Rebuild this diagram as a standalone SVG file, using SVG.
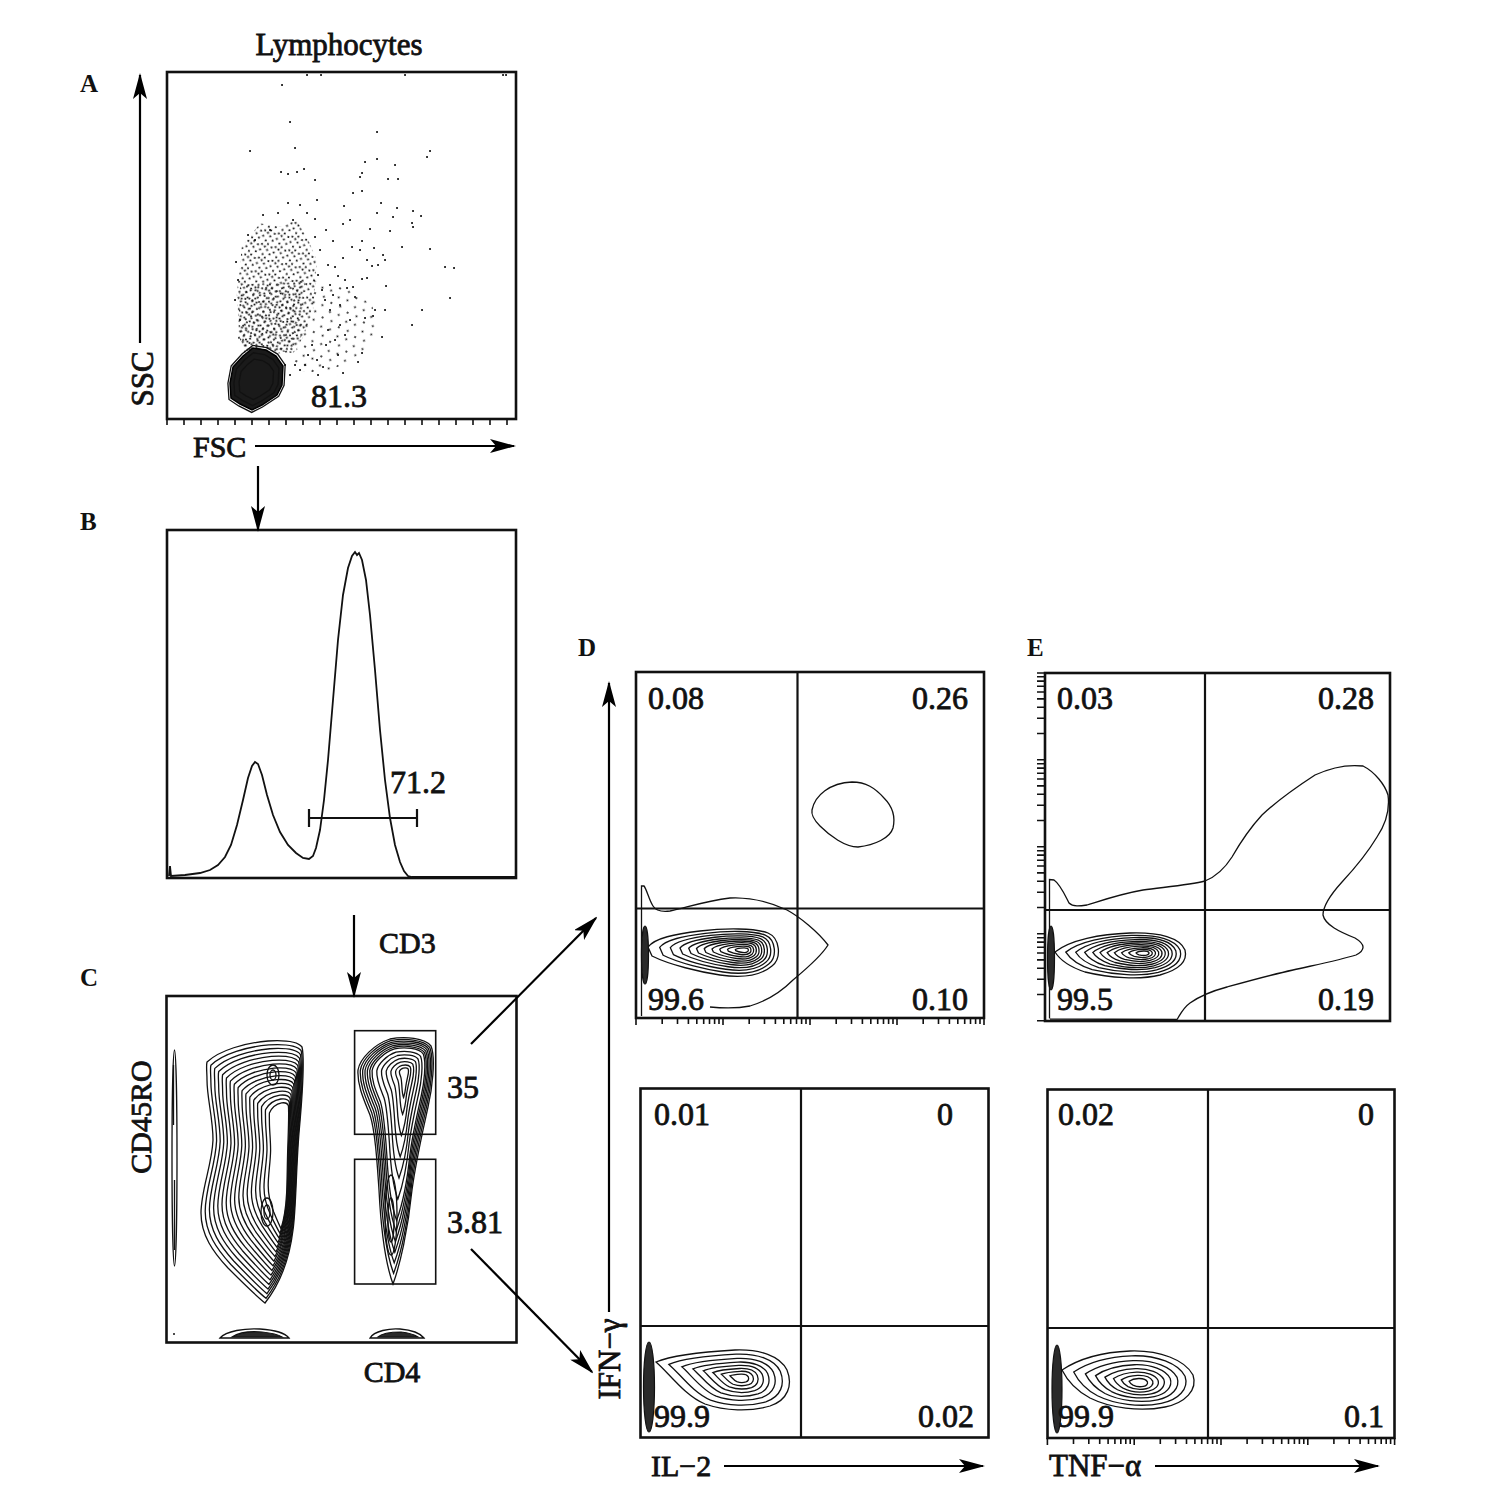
<svg xmlns="http://www.w3.org/2000/svg" width="1498" height="1491" viewBox="0 0 1498 1491">
<style>
.t{font-family:"Liberation Serif","Times New Roman",serif;fill:#111;stroke:#111;stroke-width:0.8}
.num{font-size:32px}
.lab{font-size:30px}
.pl{font-size:25px;font-weight:bold;stroke-width:0}
.frame{fill:none;stroke:#111;stroke-width:2.6}
.q{fill:none;stroke:#111;stroke-width:2.2}
.tick{fill:none;stroke:#111;stroke-width:1.6}
.ct{fill:none;stroke:#111;stroke-width:1.3;vector-effect:non-scaling-stroke}
.arr{fill:none;stroke:#000;stroke-width:2.2;marker-end:url(#ah)}
.gate{fill:none;stroke:#111;stroke-width:1.6}
.dots{fill:none;stroke:#111;stroke-width:2.1;stroke-linecap:round}
.streak{fill:#2a2a2a;stroke:#111;stroke-width:1.2}
</style>
<defs>
<marker id="ah" viewBox="0 0 26 14" refX="24" refY="7" markerWidth="26" markerHeight="14" markerUnits="userSpaceOnUse" orient="auto">
<path d="M0,0 L26,7 L0,14 L6,7 Z" fill="#000"/>
</marker>
<pattern id="p1" width="14" height="14" patternUnits="userSpaceOnUse" patternTransform="rotate(13)">
<g fill="#111"><circle cx="1.5" cy="2.5" r="1.05"/><circle cx="8.5" cy="1.5" r="1.05"/><circle cx="5" cy="6.5" r="1.05"/><circle cx="11.8" cy="5.2" r="1.05"/><circle cx="2.2" cy="10.8" r="1.05"/><circle cx="8" cy="9.5" r="1.05"/><circle cx="12.3" cy="12" r="1.05"/><circle cx="5.5" cy="12.6" r="1.05"/></g>
</pattern>
<pattern id="p1b" width="13" height="15" patternUnits="userSpaceOnUse" patternTransform="rotate(-21) translate(6,4)">
<g fill="#111"><circle cx="1.5" cy="2.5" r="1.05"/><circle cx="8.5" cy="1.5" r="1.05"/><circle cx="5" cy="7" r="1.05"/><circle cx="11" cy="6.2" r="1.05"/><circle cx="2.2" cy="11.8" r="1.05"/><circle cx="8" cy="10.5" r="1.05"/><circle cx="11.5" cy="13.5" r="1.05"/></g>
</pattern>
<pattern id="p2" width="19" height="17" patternUnits="userSpaceOnUse" patternTransform="rotate(31)">
<g fill="#111"><circle cx="3" cy="4" r="1"/><circle cx="12.5" cy="2.5" r="1"/><circle cx="15.5" cy="10.5" r="1"/><circle cx="6.5" cy="12.5" r="1"/></g>
</pattern>
<path id="cD1" class="ct" d="M648,947 C655,938 675,934 700,931 C725,928 755,928 768,933 C780,938 782,958 772,966 C760,976 740,978 720,975 C700,972 670,965 652,956 Z"/>
<path id="cE1" class="ct" d="M1055,952 C1070,940 1100,934 1130,933 C1160,932 1180,938 1185,950 C1188,962 1178,970 1160,975 C1140,980 1110,978 1085,972 C1070,967 1060,960 1055,952 Z"/>
<path id="cD2" class="ct" d="M656,1362 C670,1356 700,1352 735,1350 C760,1349 780,1356 787,1370 C793,1385 788,1400 770,1406 C750,1412 725,1411 705,1404 C685,1396 668,1372 656,1362 Z"/>
<path id="cE2" class="ct" d="M1062,1370 C1080,1358 1105,1352 1130,1351 C1160,1350 1185,1360 1193,1375 C1198,1390 1185,1403 1165,1407 C1140,1412 1110,1408 1090,1398 C1075,1390 1066,1378 1062,1370 Z"/>
<path id="cCL" class="ct" d="M207,1062 C220,1050 245,1043 268,1041 C285,1040 298,1042 302,1047 C305,1060 302,1100 299,1133 C296,1170 296,1210 293,1230 C290,1255 283,1280 265,1303 C255,1295 240,1280 228,1268 C213,1252 201,1235 201,1213 C201,1190 212,1165 213,1140 C213,1118 207,1098 207,1080 C207,1072 206,1066 207,1062 Z"/>
<path id="cCR" class="ct" d="M358,1070 C360,1058 375,1044 390,1039 C405,1036 425,1038 431,1046 C436,1058 432,1090 428,1107 C423,1130 416,1160 412,1190 C408,1230 400,1265 393,1284 C386,1265 381,1230 379,1190 C377,1160 375,1130 370,1115 C364,1100 357,1085 358,1070 Z"/>
<path id="cAB" class="ct" d="M233,367 L243,356 L253,348 L266,350 L276,356 L283,366 L282,385 L277,395 L262,405 L252,410 L240,404 L231,398 L230,383 Z"/>
</defs>
<rect width="1498" height="1491" fill="#fff"/>

<g id="panelA">
<text class="t lab" x="339" y="55" text-anchor="middle" style="font-size:31px">Lymphocytes</text>
<text class="t pl" x="80" y="92">A</text>
<rect class="frame" x="167" y="72" width="349" height="347"/>
<path class="tick" d="M167,419v6M184,419v6M201,419v6M218,419v6M235,419v6M252,419v6M269,419v6M286,419v6M303,419v6M320,419v6M337,419v6M354,419v6M371,419v6M388,419v6M405,419v6M422,419v6M439,419v6M456,419v6M473,419v6M490,419v6M507,419v6"/>
<polygon points="241.7,246.7 260,223.3 280,226.7 296.7,220 308.3,240 316.7,260 315,286.7 313.3,310 303.3,336.7 293.3,353.3 273.3,350 246.7,356.7 240,340 236.7,293.3 240,266.7" fill="url(#p1)"/>
<polygon points="240,285 305,280 302,335 292,352 262,355 246,356 238,338" fill="url(#p1b)"/>
<polygon points="313,280 335,285 355,292 372,305 378,325 370,345 350,362 325,372 300,372 292,360 300,340 310,310" fill="url(#p2)"/>
<path class="dots" d="M282 85h.1M290 122h.1M250 151h.1M295 148h.1M377 132h.1M430 151h.1M427 157h.1M377 159h.1M365 162h.1M395 165h.1M281 172h.1M288 174h.1M297 172h.1M304 169h.1M315 180h.1M362 173h.1M360 177h.1M388 179h.1M398 179h.1M353 193h.1M362 191h.1M317 200h.1M288 203h.1M344 206h.1M381 203h.1M413 211h.1M421 216h.1M397 208h.1M377 213h.1M393 217h.1M307 213h.1M278 213h.1M263 215h.1M315 219h.1M293 220h.1M350 220h.1M343 224h.1M412 223h.1M413 227h.1M390 231h.1M370 229h.1M326 230h.1M315 237h.1M333 241h.1M352 247h.1M362 241h.1M374 248h.1M402 247h.1M430 249h.1M445 267h.1M454 268h.1M383 255h.1M385 260h.1M360 250h.1M343 258h.1M367 260h.1M372 266h.1M378 265h.1M335 267h.1M328 265h.1M450 298h.1M422 310h.1M412 325h.1M386 286h.1M367 278h.1M362 279h.1M353 287h.1M347 288h.1M355 297h.1M375 310h.1M385 310h.1M373 316h.1M365 318h.1M382 337h.1M343 373h.1M358 362h.1M362 353h.1M338 355h.1M317 360h.1M323 367h.1M318 375h.1M307 75h.1M321 75h.1M405 75h.1M503 75h.1M506 75h.1M236 262h.1M238 280h.1M235 300h.1M240 320h.1M318 275h.1M322 290h.1M320 250h.1M325 300h.1M330 310h.1M328 330h.1M335 340h.1M300 205h.1M270 230h.1M255 240h.1M248 235h.1M312 345h.1M305 365h.1M300 370h.1M290 375h.1M295 365h.1M285 365h.1M308 355h.1M326 345h.1M340 325h.1M345 335h.1M350 320h.1M340 305h.1M333 295h.1M345 280h.1M338 276h.1M330 285h.1"/>
<use href="#cAB" transform="matrix(1.08,0,0,1.08,-20.48,-30.4)"/>
<path d="M233,367 L243,356 L253,348 L266,350 L276,356 L283,366 L282,385 L277,395 L262,405 L252,410 L240,404 L231,398 L230,383 Z" fill="#1a1a1a" stroke="#000" stroke-width="1.5"/>
<use href="#cAB" transform="matrix(.85,0,0,.85,38.4,57)" style="stroke:#666"/>
<use href="#cAB" transform="matrix(.65,0,0,.65,89.6,133)" style="stroke:#555"/>
<text class="t num" x="311" y="407">81.3</text>
<line class="arr" x1="140" y1="343" x2="140" y2="75"/>
<text class="t lab" transform="translate(153,379) rotate(-90)" text-anchor="middle" style="font-size:31px">SSC</text>
<text class="t lab" x="193" y="457">FSC</text>
<line class="arr" x1="255" y1="446" x2="514" y2="446"/>
</g>

<g id="panelB">
<text class="t pl" x="80" y="530">B</text>
<rect class="frame" x="167" y="530" width="349" height="348"/>
<path fill="none" stroke="#111" stroke-width="1.8" d="M169,876 L170,866 L171,876 L185,875 L200,873 L210,870 L218,865 L225,857 L231,845 L237,825 L243,800 L248,778 L252,766 L255,762 L258,764 L262,775 L267,795 L273,815 L280,832 L288,845 L296,853 L303,858 L309,859 L313,856 L316,848 L320,830 L324,800 L328,760 L333,700 L338,640 L343,595 L348,568 L352,556 L355,552 L357,555 L359,553 L362,560 L366,580 L370,615 L375,670 L380,730 L385,780 L390,818 L395,845 L400,862 L404,871 L408,876 L412,877 L516,877"/>
<path class="q" d="M309,818H417M309,809V827M417,809V827"/>
<text class="t num" x="390" y="793">71.2</text>
</g>

<g id="panelC">
<text class="t pl" x="80" y="986">C</text>
<text class="t lab" x="379" y="953">CD3</text>
<rect class="frame" x="166.5" y="996" width="350" height="346.5"/>
<g>
<use href="#cCL"/>
<use href="#cCL" transform="matrix(.95,0,0,.9675,14.25,37.7)"/>
<use href="#cCL" transform="matrix(.9,0,0,.935,28.5,75.4)"/>
<use href="#cCL" transform="matrix(.85,0,0,.9025,42.75,113.1)"/>
<use href="#cCL" transform="matrix(.8,0,0,.87,57,150.8)"/>
<use href="#cCL" transform="matrix(.75,0,0,.8375,71.25,188.5)"/>
<use href="#cCL" transform="matrix(.7,0,0,.805,85.5,226.2)"/>
<use href="#cCL" transform="matrix(.65,0,0,.7725,99.75,263.9)"/>
<use href="#cCL" transform="matrix(.6,0,0,.74,114,301.6)"/>
<use href="#cCL" transform="matrix(.55,0,0,.7075,128.25,339.3)"/>
<use href="#cCL" transform="matrix(.5,0,0,.675,142.5,377)"/>
<use href="#cCL" transform="matrix(.45,0,0,.6425,156.75,414.7)"/>
<use href="#cCL" transform="matrix(.4,0,0,.61,171,452.4)"/>
<use href="#cCL" transform="matrix(.35,0,0,.5775,185.25,490.1)"/>
<use href="#cCL" transform="matrix(.3,0,0,.545,199.5,527.8)"/>
<use href="#cCL" transform="matrix(.25,0,0,.5125,213.75,565.5)"/>
<use href="#cCL" transform="matrix(.2,0,0,.48,228,603.2)"/>
<ellipse class="ct" cx="273" cy="1075" rx="6" ry="10"/>
<ellipse class="ct" cx="273" cy="1075" rx="3" ry="5"/>
<ellipse class="ct" cx="267" cy="1212" rx="6" ry="14"/>
<ellipse class="ct" cx="267" cy="1212" rx="3" ry="7"/>
</g>
<g>
<use href="#cCR"/>
<use href="#cCR" transform="matrix(.95,0,0,.95,20.25,53.6)"/>
<use href="#cCR" transform="matrix(.9,0,0,.9,40.5,107.2)"/>
<use href="#cCR" transform="matrix(.85,0,0,.85,60.75,160.8)"/>
<use href="#cCR" transform="matrix(.8,0,0,.8,81,214.4)"/>
<use href="#cCR" transform="matrix(.75,0,0,.75,101.25,268)"/>
<use href="#cCR" transform="matrix(.7,0,0,.7,121.5,321.6)"/>
<use href="#cCR" transform="matrix(.6,0,0,.6,162,428.8)"/>
<use href="#cCR" transform="matrix(.5,0,0,.5,202.5,536)"/>
<use href="#cCR" transform="matrix(.4,0,0,.4,243,643.2)"/>
<use href="#cCR" transform="matrix(.3,0,0,.3,283.5,750.4)"/>
<use href="#cCR" transform="matrix(.2,0,0,.2,324,857.6)"/>
<use href="#cCR" transform="matrix(.12,0,0,.12,356.4,943.36)"/>
<ellipse class="ct" cx="391" cy="1215" rx="6" ry="40"/>
<ellipse class="ct" cx="391" cy="1220" rx="3" ry="22"/>
</g>
<ellipse class="ct" cx="174.5" cy="1158" rx="2.5" ry="108"/>
<path class="ct" d="M173.5,1065V1125M174.5,1180V1250"/>
<circle cx="174" cy="1334" r="1" fill="#111"/>
<path class="ct" d="M220,1338 C226,1331 245,1328 260,1329 C275,1330 285,1333 289,1338 Z"/>
<path class="streak" d="M232,1337 C238,1333 250,1331 262,1332 C272,1333 279,1335 282,1337 Z"/>
<path class="ct" d="M370,1338 C374,1331 390,1328 400,1329 C412,1330 420,1333 424,1338 Z"/>
<path class="streak" d="M378,1337 C382,1333 392,1332 401,1332 C410,1333 415,1335 418,1337 Z"/>
<rect class="gate" x="354.6" y="1030.7" width="81.1" height="103.6"/>
<rect class="gate" x="354.6" y="1159.3" width="81.1" height="124.7"/>
<text class="t num" x="447" y="1098">35</text>
<text class="t num" x="447" y="1233">3.81</text>
<text class="t lab" transform="translate(151,1117) rotate(-90)" text-anchor="middle">CD45RO</text>
<text class="t lab" x="392" y="1382" text-anchor="middle">CD4</text>
</g>

<g id="panelD-top">
<text class="t pl" x="578" y="656">D</text>
<rect class="frame" x="636" y="672" width="348" height="346"/>
<path class="q" d="M797.5,672V1018M636,908.5H984"/>
<path class="tick" d="M636,1018v7M662.2,1018v6M677.5,1018v6M688.4,1018v6M696.8,1018v6M703.7,1018v6M709.5,1018v6M714.6,1018v6M719,1018v6M723,1018v7M749.2,1018v6M764.5,1018v6M775.4,1018v6M783.8,1018v6M790.7,1018v6M796.5,1018v6M801.6,1018v6M806,1018v6M810,1018v7M836.2,1018v6M851.5,1018v6M862.4,1018v6M870.8,1018v6M877.7,1018v6M883.5,1018v6M888.6,1018v6M893,1018v6M897,1018v7M923.2,1018v6M938.5,1018v6M949.4,1018v6M957.8,1018v6M964.7,1018v6M970.5,1018v6M975.6,1018v6M980,1018v6M984,1018v7"/>
<path class="ct" d="M641.5,1016 L641.5,886 L644,886 C647,890 649,900 653,906 C656,911 662,912 670,911 C685,908 705,901 730,898 C750,897 770,902 787,910 C800,917 818,932 828,945 C822,955 805,970 793,980 C783,990 770,1000 750,1006 C735,1009 720,1008 710,1007"/>
<path class="ct" d="M812,810 C815,795 830,783 852,782 C866,782 875,788 884,798 C892,806 896,815 893,828 C890,838 875,845 858,847 C845,847 830,836 820,826 C815,821 811,815 812,810 Z"/>
<use href="#cD1"/>
<use href="#cD1" transform="matrix(.88,0,0,.88,89.4,114)"/>
<use href="#cD1" transform="matrix(.77,0,0,.77,171.35,218.5)"/>
<use href="#cD1" transform="matrix(.67,0,0,.67,245.85,313.5)"/>
<use href="#cD1" transform="matrix(.58,0,0,.58,312.9,399)"/>
<use href="#cD1" transform="matrix(.5,0,0,.5,372.5,475)"/>
<use href="#cD1" transform="matrix(.42,0,0,.42,432.1,551)"/>
<use href="#cD1" transform="matrix(.34,0,0,.34,491.7,627)"/>
<use href="#cD1" transform="matrix(.26,0,0,.26,551.3,703)"/>
<use href="#cD1" transform="matrix(.18,0,0,.18,610.9,779)"/>
<use href="#cD1" transform="matrix(.1,0,0,.1,670.5,855)"/>
<ellipse class="streak" cx="645" cy="955" rx="3.5" ry="29"/>
<text class="t num" x="648" y="709">0.08</text>
<text class="t num" x="968" y="709" text-anchor="end">0.26</text>
<text class="t num" x="648" y="1010">99.6</text>
<text class="t num" x="968" y="1010" text-anchor="end">0.10</text>
</g>

<g id="panelE-top">
<text class="t pl" x="1027" y="656">E</text>
<rect class="frame" x="1045" y="673" width="345" height="348"/>
<path class="q" d="M1205,673V1021M1045,910H1390"/>
<path class="tick" d="M1037,1020.7h8M1037,994.5h8M1037,979.2h8M1037,968.3h8M1037,959.9h8M1037,953h8M1037,947.2h8M1037,942.1h8M1037,937.7h8M1037,933.7h8M1037,907.5h8M1037,892.2h8M1037,881.3h8M1037,872.9h8M1037,866h8M1037,860.2h8M1037,855.1h8M1037,850.7h8M1037,846.7h8M1037,820.5h8M1037,805.2h8M1037,794.3h8M1037,785.9h8M1037,779h8M1037,773.2h8M1037,768.1h8M1037,763.7h8M1037,759.7h8M1037,733.5h8M1037,718.2h8M1037,707.3h8M1037,698.9h8M1037,692h8M1037,686.2h8M1037,681.1h8M1037,676.7h8M1037,673h8"/>
<path class="ct" d="M1049.5,1018.5 L1049.5,879.5 L1054,880 C1060,884 1064,893 1069,903 C1073,907 1080,906 1087,905 C1100,901 1120,894 1143,890 C1165,887 1190,885 1205,881 C1215,877 1225,868 1232,857 C1240,843 1250,828 1262,815 C1278,800 1295,788 1315,775 C1330,768 1345,764 1363,766 C1375,772 1385,785 1388,795 C1390,810 1385,825 1377,837 C1368,852 1355,868 1342,882 C1332,893 1323,905 1323,915 C1325,925 1340,932 1355,938 C1365,944 1366,950 1356,955 C1340,960 1315,965 1293,970 C1270,975 1245,982 1227,987 C1212,991 1200,996 1190,1003 C1183,1008 1180,1015 1177,1019.5 L1050,1019"/>
<use href="#cE1"/>
<use href="#cE1" transform="matrix(.88,0,0,.88,137.4,114.36)"/>
<use href="#cE1" transform="matrix(.77,0,0,.77,263.35,219.19)"/>
<use href="#cE1" transform="matrix(.67,0,0,.67,377.85,314.49)"/>
<use href="#cE1" transform="matrix(.58,0,0,.58,480.9,400.26)"/>
<use href="#cE1" transform="matrix(.5,0,0,.5,572.5,476.5)"/>
<use href="#cE1" transform="matrix(.42,0,0,.42,664.1,552.74)"/>
<use href="#cE1" transform="matrix(.34,0,0,.34,755.7,628.98)"/>
<use href="#cE1" transform="matrix(.26,0,0,.26,847.3,705.22)"/>
<use href="#cE1" transform="matrix(.18,0,0,.18,938.9,781.46)"/>
<use href="#cE1" transform="matrix(.1,0,0,.1,1030.5,857.7)"/>
<ellipse class="streak" cx="1051" cy="958" rx="3.5" ry="32"/>
<text class="t num" x="1057" y="709">0.03</text>
<text class="t num" x="1374" y="709" text-anchor="end">0.28</text>
<text class="t num" x="1057" y="1010">99.5</text>
<text class="t num" x="1374" y="1010" text-anchor="end">0.19</text>
</g>

<g id="panelD-bottom">
<rect class="frame" x="640.5" y="1088.5" width="348" height="349"/>
<path class="q" d="M801,1088.5V1437.5M640.5,1326H988.5"/>
<use href="#cD2"/>
<use href="#cD2" transform="matrix(.85,0,0,.85,111.3,206.7)"/>
<use href="#cD2" transform="matrix(.7,0,0,.7,222.6,413.4)"/>
<use href="#cD2" transform="matrix(.57,0,0,.57,319.06,592.54)"/>
<use href="#cD2" transform="matrix(.45,0,0,.45,408.1,757.9)"/>
<use href="#cD2" transform="matrix(.34,0,0,.34,489.72,909.48)"/>
<use href="#cD2" transform="matrix(.24,0,0,.24,563.92,1047.28)"/>
<use href="#cD2" transform="matrix(.14,0,0,.14,638.12,1185.08)"/>
<ellipse class="streak" cx="649" cy="1387" rx="5.5" ry="45"/>
<text class="t num" x="654" y="1125">0.01</text>
<text class="t num" x="953" y="1125" text-anchor="end">0</text>
<text class="t num" x="654" y="1427">99.9</text>
<text class="t num" x="974" y="1427" text-anchor="end">0.02</text>
<text class="t lab" x="651" y="1476">IL−2</text>
<line class="arr" x1="724" y1="1466" x2="983" y2="1466"/>
<line class="arr" x1="609" y1="1312" x2="609" y2="683"/>
<text class="t lab" transform="translate(620,1359) rotate(-90)" text-anchor="middle" style="font-size:31px">IFN−γ</text>
</g>

<g id="panelE-bottom">
<rect class="frame" x="1047.5" y="1089.5" width="347" height="348.5"/>
<path class="q" d="M1208,1089.5V1438M1047.5,1328H1394.5"/>
<path class="tick" d="M1047.4,1438v7M1073.5,1438v6M1088.8,1438v6M1099.7,1438v6M1108.1,1438v6M1114.9,1438v6M1120.8,1438v6M1125.8,1438v6M1130.2,1438v6M1134.2,1438v7M1160.3,1438v6M1175.6,1438v6M1186.5,1438v6M1194.9,1438v6M1201.7,1438v6M1207.6,1438v6M1212.6,1438v6M1217,1438v6M1221,1438v7M1247.1,1438v6M1262.4,1438v6M1273.3,1438v6M1281.7,1438v6M1288.5,1438v6M1294.4,1438v6M1299.4,1438v6M1303.8,1438v6M1307.8,1438v7M1333.9,1438v6M1349.2,1438v6M1360.1,1438v6M1368.5,1438v6M1375.3,1438v6M1381.2,1438v6M1386.2,1438v6M1390.6,1438v6M1394.6,1438v7"/>
<use href="#cE2"/>
<use href="#cE2" transform="matrix(.85,0,0,.85,171,207.45)"/>
<use href="#cE2" transform="matrix(.7,0,0,.7,342,414.9)"/>
<use href="#cE2" transform="matrix(.57,0,0,.57,490.2,594.69)"/>
<use href="#cE2" transform="matrix(.45,0,0,.45,627,760.65)"/>
<use href="#cE2" transform="matrix(.34,0,0,.34,752.4,912.78)"/>
<use href="#cE2" transform="matrix(.24,0,0,.24,866.4,1051.08)"/>
<use href="#cE2" transform="matrix(.14,0,0,.14,980.4,1189.38)"/>
<ellipse class="streak" cx="1057" cy="1389" rx="5" ry="44"/>
<text class="t num" x="1058" y="1125">0.02</text>
<text class="t num" x="1374" y="1125" text-anchor="end">0</text>
<text class="t num" x="1058" y="1427">99.9</text>
<text class="t num" x="1384" y="1427" text-anchor="end">0.1</text>
<text class="t lab" x="1049" y="1476" style="font-size:31px">TNF−α</text>
<line class="arr" x1="1155" y1="1466" x2="1378" y2="1466"/>
</g>

<g id="connectors">
<line class="arr" x1="258" y1="466" x2="258" y2="530"/>
<line class="arr" x1="354" y1="915" x2="354" y2="996"/>
<line class="arr" x1="471" y1="1044" x2="596" y2="918"/>
<line class="arr" x1="471" y1="1249" x2="592" y2="1372"/>
</g>
</svg>
